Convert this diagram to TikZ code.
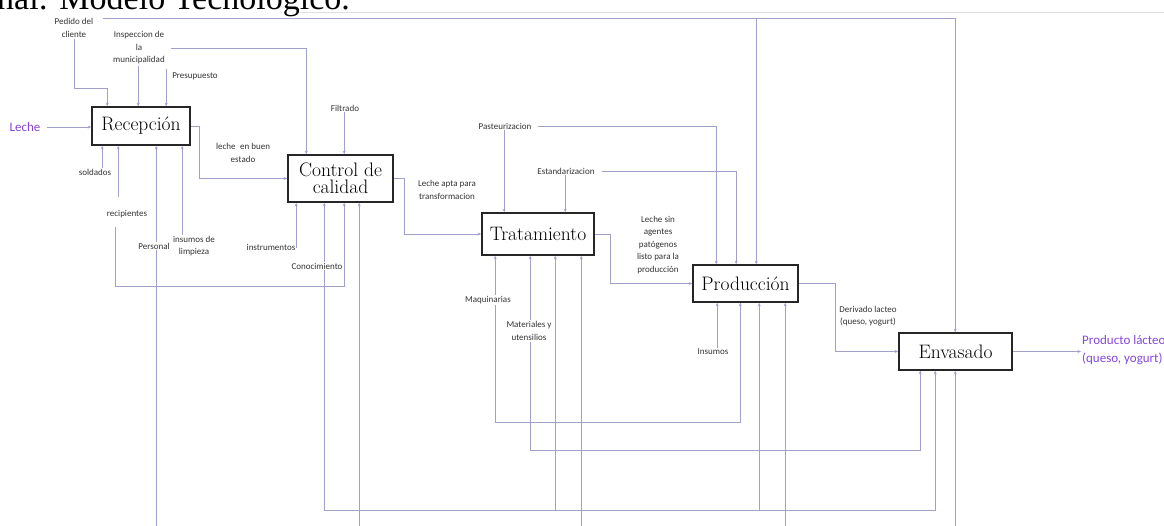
\documentclass[tikz,border=0pt]{standalone}
\usepackage{fontspec}
\usetikzlibrary{arrows.meta,backgrounds}
\newfontfamily\lblfont{Carlito}
\newfontfamily\ttlfont{Liberation Serif}
\definecolor{wire}{RGB}{160,160,200}
\definecolor{inout}{RGB}{135,70,215}
\begin{document}
\begin{tikzpicture}[x=1pt,y=-1pt,
  proc/.style={draw=black!85, line width=1.6pt, inner sep=0pt, align=center,
    font=\fontsize{19.5}{17.5}\selectfont},
  lbl/.style={font=\lblfont\fontsize{9}{12.5}\selectfont, text=black!80, align=center, inner sep=1pt},
  io/.style={font=\lblfont\fontsize{13}{18}\selectfont, text=inout, align=left, inner sep=1pt},
  wire/.style={draw=wire, line width=0.8pt},
  arr/.style={wire, -{Stealth[length=3.5pt,width=3pt]}},
  frame/.style={draw=black!12, line width=1pt},
]
\useasboundingbox (0,0) rectangle (1164,525);
\clip (0,0) rectangle (1164,525);

% heading of the page, cut by the frame
\node[font=\ttlfont\fontsize{34}{36}\selectfont, anchor=base east, inner sep=0pt] (ttl) at (350,9) {onal: Modelo Tecnológico.};

% process boxes
\node[proc, minimum width=98pt, minimum height=38pt] (rec) at (141,126) {Recepción};
\node[proc, minimum width=105pt, minimum height=47pt] (cal) at (340.5,178.5) {Control de\\calidad};
\node[proc, minimum width=112pt, minimum height=42pt] (tra) at (538,234) {Tratamiento};
\node[proc, minimum width=105pt, minimum height=37pt] (pro) at (745.5,283.5) {Producción};
\node[proc, minimum width=113pt, minimum height=37pt] (env) at (955.5,351.5) {Envasado};

% labels
\node[io] (leche) at (25,127) {Leche};
\node[lbl] (pedido) at (74,28) {Pedido del\\cliente};
\node[lbl] (insp) at (139,48) {Inspeccion de\\la\\municipalidad};
\node[lbl] (presu) at (195,76) {Presupuesto};
\node[lbl] (buen) at (243,153) {leche\enspace en buen\\estado};
\node[lbl] (sold) at (95,172) {soldados};
\node[lbl] (recip) at (127,214) {recipientes};
\node[lbl, fill=white] (pers) at (154,246) {Personal};
\node[lbl] (limp) at (194,246) {insumos de\\limpieza};
\node[lbl] (filt) at (345,108) {Filtrado};
\node[lbl] (instr) at (271,247) {instrumentos};
\node[lbl, fill=white] (cono) at (317,266) {Conocimiento};
\node[lbl] (apta) at (447,190) {Leche apta para\\transformacion};
\node[lbl] (past) at (505,126) {Pasteurizacion};
\node[lbl] (estd) at (566,171) {Estandarizacion};
\node[lbl] (sinag) at (658,245) {Leche sin\\agentes\\patógenos\\listo para la\\producción};
\node[lbl] (maq) at (488,300) {Maquinarias};
\node[lbl] (mat) at (529,331) {Materiales y\\utensilios};
\node[lbl] (ins) at (713,352) {Insumos};
\node[lbl] (deriv) at (868,316) {Derivado lacteo\\(queso, yogurt)};
\node[io, anchor=west] (prod) at (1081,350) {Producto lácteo\\(queso, yogurt)};

% ports on the boxes
\coordinate (rN1) at ([xshift=16pt]rec.north west);
\coordinate (rN2) at ([xshift=47pt]rec.north west);
\coordinate (rN3) at ([xshift=75pt]rec.north west);
\coordinate (rS1) at ([xshift=11pt]rec.south west);
\coordinate (rS2) at ([xshift=27pt]rec.south west);
\coordinate (rS3) at ([xshift=65pt]rec.south west);
\coordinate (rS4) at ([xshift=91pt]rec.south west);
\coordinate (cN1) at ([xshift=19pt]cal.north west);
\coordinate (cN2) at ([xshift=57pt]cal.north west);
\coordinate (cS1) at ([xshift=9pt]cal.south west);
\coordinate (cS2) at ([xshift=37pt]cal.south west);
\coordinate (cS3) at ([xshift=57pt]cal.south west);
\coordinate (cS4) at ([xshift=72pt]cal.south west);
\coordinate (tN1) at ([xshift=23pt]tra.north west);
\coordinate (tN2) at ([xshift=84pt]tra.north west);
\coordinate (tS1) at ([xshift=14pt]tra.south west);
\coordinate (tS2) at ([xshift=49pt]tra.south west);
\coordinate (tS3) at ([xshift=74pt]tra.south west);
\coordinate (tS4) at ([xshift=100pt]tra.south west);
\coordinate (pN1) at ([xshift=24pt]pro.north west);
\coordinate (pN2) at ([xshift=44pt]pro.north west);
\coordinate (pN3) at ([xshift=64pt]pro.north west);
\coordinate (pS1) at ([xshift=25pt]pro.south west);
\coordinate (pS2) at ([xshift=48pt]pro.south west);
\coordinate (pS3) at ([xshift=67pt]pro.south west);
\coordinate (pS4) at ([xshift=93pt]pro.south west);
\coordinate (eN1) at ([xshift=57pt]env.north west);
\coordinate (eS1) at ([xshift=22pt]env.south west);
\coordinate (eS2) at ([xshift=37pt]env.south west);
\coordinate (eS3) at ([xshift=57pt]env.south west);

% routing levels and free ends
\coordinate (tl) at (103,18);
\coordinate (fl) at (300,12);
\coordinate (fr) at (1165,12);
\coordinate (lv88) at (0,88);
\coordinate (lv286) at (0,286);
\coordinate (lv422) at (0,422);
\coordinate (lv450) at (0,450);
\coordinate (lv510) at (0,510);
\coordinate (bot) at (0,527);

\begin{scope}[on background layer]
% page frame line
\draw[frame] (fl) -- (fr);

% inputs and outputs
\draw[arr, shorten <=5pt] (leche.east) -- (leche.east -| rec.west);
\draw[arr] (rec.east) -- ++(9,0) |- (cal.west);
\draw[arr] (cal.east) -- ++(11,0) |- (tra.west);
\draw[arr] (tra.east) -- ++(16,0) |- (pro.west);
\draw[arr] (pro.east) -- ++(37,0) |- (env.west);
\draw[arr] (env.east) -- (env.east -| prod.west);

% controls from above
\draw[arr] (pedido.south) -- (pedido.south |- lv88) -| (rN1);
\draw[arr] (tl) -| (eN1);
\draw[arr] (tl -| pN3) -- (pN3);
\draw[arr] (insp.south -| rN2) -- (rN2);
\draw[arr, shorten <=5pt] (insp.east) -| (cN1);
\draw[arr] ([yshift=2pt]presu.north -| rN3) -- (rN3);
\draw[arr] (filt.south -| cN2) -- (cN2);
\draw[arr] (past.south -| tN1) -- (tN1);
\draw[arr, shorten <=6pt] (past.east) -| (pN1);
\draw[arr] (estd.south -| tN2) -- (tN2);
\draw[arr, shorten <=6pt] (estd.east) -| (pN2);

% mechanisms from below
\draw[arr] (sold.north -| rS1) -- (rS1);
\draw[arr, shorten <=12pt] (recip.north -| rS2) -- (rS2);
\draw[arr, shorten <=8pt] ([xshift=-12pt]recip.south) -- ([xshift=-12pt]recip.south |- lv286) -| (cS3);
\draw[arr] (rS3 |- bot) -- (rS3);
\draw[arr] (limp.north -| rS4) -- (rS4);
\draw[arr] (instr.east) -| (cS1);
\draw[arr] (cS2 |- lv510) -- (cS2);
\draw[arr] (cS2 |- lv510) -| (eS2);
\draw[arr] (tS3 |- lv510) -- (tS3);
\draw[arr] (pS3 |- lv510) -- (pS3);
\draw[arr] (cS4 |- bot) -- (cS4);
\draw[arr] (maq.north -| tS1) -- (tS1);
\draw[wire] (maq.south -| tS1) -- (tS1 |- lv422) -| (pS2);
\draw[arr] (pS2 |- lv422) -- (pS2);
\draw[arr] (mat.north -| tS2) -- (tS2);
\draw[wire] (mat.south -| tS2) -- (tS2 |- lv450) -| (eS1);
\draw[arr] (eS1 |- lv450) -- (eS1);
\draw[arr] (tS4 |- bot) -- (tS4);
\draw[arr] (ins.north -| pS1) -- (pS1);
\draw[arr] (pS4 |- bot) -- (pS4);
\draw[arr] (eS3 |- bot) -- (eS3);
\end{scope}
\end{tikzpicture}
\end{document}
